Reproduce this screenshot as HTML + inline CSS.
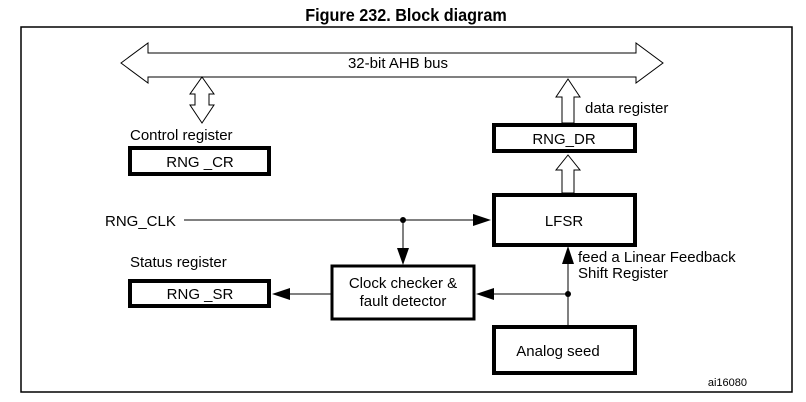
<!DOCTYPE html>
<html><head><meta charset="utf-8"><style>
html,body{margin:0;padding:0;background:#fff;}
svg{display:block;font-family:"Liberation Sans",Arial,sans-serif;}
svg text{font-size:15px;}
</style></head><body>
<svg width="806" height="402" viewBox="0 0 806 402" xmlns="http://www.w3.org/2000/svg">
<rect width="806" height="402" fill="#fff"/>
<text x="406" y="21" text-anchor="middle" style="font-size:18px" font-weight="bold" transform="translate(406 0) scale(0.9 1) translate(-406 0)">Figure 232. Block diagram</text>
<path d="M21 392 V27 H792 V392 Z" fill="none" stroke="#000" stroke-width="1.5"/>
<polygon points="121,63 148,43 148,53 636,53 636,43 663,63 636,83 636,77 148,77 148,83" fill="#fff" stroke="#000" stroke-width="1"/>
<text x="398" y="68" text-anchor="middle">32-bit AHB bus</text>
<polygon points="202,77 214,94 209,94 209,105 214,105 202,123 190,105 195,105 195,94 190,94" fill="#fff" stroke="#000" stroke-width="1"/>
<text x="130" y="140">Control register</text>
<rect x="130" y="148" width="139" height="26" fill="#fff" stroke="#000" stroke-width="4"/>
<text x="200" y="167" text-anchor="middle">RNG _CR</text>
<polygon points="568,79 580,97 574,97 574,123 562,123 562,97 556,97" fill="#fff" stroke="#000" stroke-width="1"/>
<text x="585" y="113">data register</text>
<rect x="494" y="125" width="141" height="26" fill="#fff" stroke="#000" stroke-width="4"/>
<text x="564" y="144" text-anchor="middle">RNG_DR</text>
<polygon points="568,155 580,170 574,170 574,193 562,193 562,170 556,170" fill="#fff" stroke="#000" stroke-width="1"/>
<rect x="494" y="195" width="141" height="50" fill="#fff" stroke="#000" stroke-width="4"/>
<text x="564" y="226" text-anchor="middle">LFSR</text>
<text x="105" y="226">RNG_CLK</text>
<line x1="184" y1="220" x2="474" y2="220" stroke="#000" stroke-width="1"/>
<polygon points="491,220 473,214 473,226" fill="#000"/>
<circle cx="403" cy="220" r="3" fill="#000"/>
<line x1="403" y1="220" x2="403" y2="250" stroke="#000" stroke-width="1"/>
<polygon points="403,265 397,248 409,248" fill="#000"/>
<rect x="332" y="266" width="142" height="53" fill="#fff" stroke="#000" stroke-width="3"/>
<text x="403" y="288" text-anchor="middle">Clock checker &amp;</text>
<text x="403" y="306" text-anchor="middle">fault detector</text>
<text x="130" y="267">Status register</text>
<rect x="130" y="281" width="139" height="25" fill="#fff" stroke="#000" stroke-width="4"/>
<text x="200" y="299" text-anchor="middle">RNG _SR</text>
<line x1="288" y1="294" x2="331" y2="294" stroke="#000" stroke-width="1"/>
<polygon points="272,294 290,288 290,300" fill="#000"/>
<line x1="492" y1="294" x2="568" y2="294" stroke="#000" stroke-width="1"/>
<polygon points="476,294 494,288 494,300" fill="#000"/>
<circle cx="568" cy="294" r="3" fill="#000"/>
<line x1="568" y1="260" x2="568" y2="325" stroke="#000" stroke-width="1"/>
<polygon points="568,246 562,264 574,264" fill="#000"/>
<text x="578" y="262">feed a Linear Feedback</text>
<text x="578" y="278">Shift Register</text>
<rect x="494" y="327" width="141" height="46" fill="#fff" stroke="#000" stroke-width="4"/>
<text x="558" y="356" text-anchor="middle">Analog seed</text>
<text x="747" y="386" text-anchor="end" style="font-size:11px">ai16080</text>
</svg>
</body></html>
